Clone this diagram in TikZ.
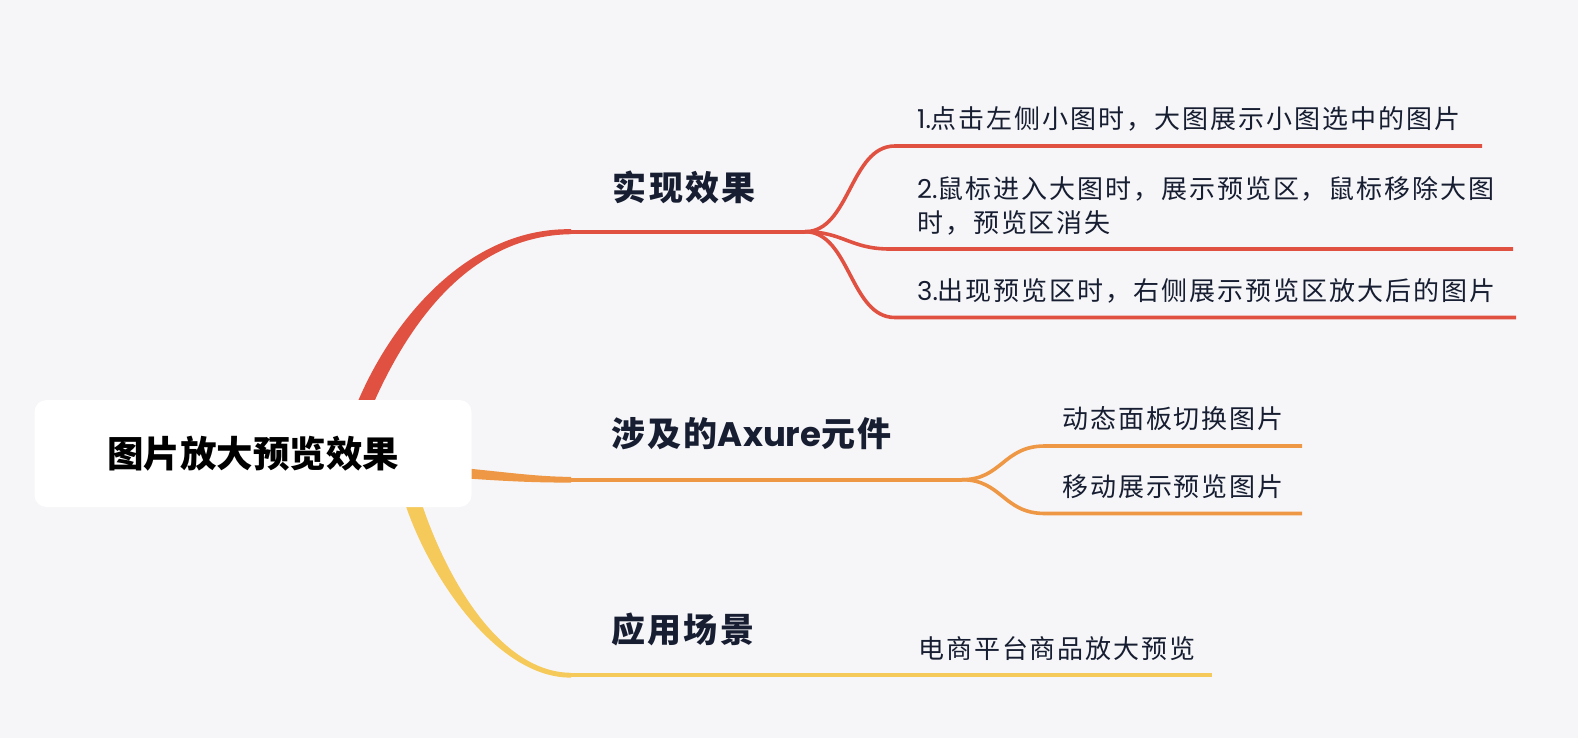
\documentclass[tikz,border=0pt]{standalone}
\usepackage{fontspec}
\setmainfont{Noto Sans CJK SC}
\newfontfamily\cjk[LetterSpace=7.5]{Noto Sans CJK SC}
\newfontfamily\cjkb[LetterSpace=7]{Noto Sans CJK SC}
\newfontfamily\cjkroot{Noto Sans CJK SC}
\newfontfamily\lat{Poppins}
\definecolor{bgc}{HTML}{F6F6F8}
\definecolor{ink}{HTML}{171E32}
\definecolor{mred}{HTML}{E05141}
\definecolor{morange}{HTML}{EE9845}
\definecolor{myellow}{HTML}{F5C95A}
\begin{document}
\begin{tikzpicture}[x=1pt,y=-1pt,
  leaf/.style={anchor=west, inner sep=0pt, text=ink, align=left, font=\cjk\fontsize{26}{34}\selectfont},
  head/.style={anchor=west, inner sep=0pt, text=ink, font=\cjkb\bfseries\fontsize{34}{40}\selectfont},
  rootbox/.style={fill=white, rounded corners=12pt, minimum width=437pt, minimum height=107pt, inner sep=0pt, text=black, font=\cjkroot\bfseries\fontsize{36.5}{40}\selectfont},
  rline/.style={draw=mred, line width=3.6pt, line cap=butt},
  oline/.style={draw=morange, line width=3.6pt, line cap=butt},
  yline/.style={draw=myellow, line width=4.2pt, line cap=butt}]
\useasboundingbox (0,0) rectangle (1578,738);
\fill[bgc] (0,0) rectangle (1578,738);

% junction coordinates
\coordinate (rJ) at (571,231.7);
\coordinate (rS) at (805,231.7);
\coordinate (r1) at (895,146);
\coordinate (r1e) at (1482,146);
\coordinate (r2) at (890,249);
\coordinate (r2e) at (1513,249);
\coordinate (r3) at (895,317.5);
\coordinate (r3e) at (1516,317.5);
\coordinate (oJ) at (571,479.7);
\coordinate (oS) at (962,479.7);
\coordinate (o1) at (1045,446);
\coordinate (o1e) at (1302,446);
\coordinate (o2) at (1045,513.5);
\coordinate (o2e) at (1302,513.5);
\coordinate (yJ) at (571,675.3);
\coordinate (yE) at (1212,675.3);

% tapered red trunk
\fill[mred] (347.6,424.4) -- (359.8,397) .. controls (396,314.8) and (471,227.6) .. (571,229.2)
  -- (571,234.2) .. controls (471,235.6) and (410,321.2) .. (373.6,403) -- (361.4,430.4) -- cycle;
% tapered orange trunk
\fill[morange] (440,466) .. controls (500,471) and (530,476.5) .. (571,476.9)
  -- (571,482.6) .. controls (530,482.6) and (500,481) .. (440,476.5) -- cycle;
% tapered yellow trunk
\fill[myellow] (412.5,477.4) -- (422.4,505.7) .. controls (448,581.3) and (501,672.3) .. (571,672.8)
  -- (571,677.6) .. controls (501,678.1) and (434.8,586.3) .. (407.6,510.9) -- (397.7,482.6) -- cycle;

% red branch
\draw[rline] (rJ) -- (rS);
\draw[rline] (rS) .. controls +(45,0) and +(-45,0) .. (r1) -- (r1e);
\draw[rline] (rS) .. controls +(38,0) and +(-40,0) .. (r2) -- (r2e);
\draw[rline] (rS) .. controls +(45,0) and +(-45,0) .. (r3) -- (r3e);
% orange branch
\draw[oline] (oJ) -- (oS);
\draw[oline] (oS) .. controls +(40,0) and +(-42,0) .. (o1) -- (o1e);
\draw[oline] (oS) .. controls +(40,0) and +(-42,0) .. (o2) -- (o2e);
% yellow branch
\draw[yline] (yJ) -- (yE);

% root
\node[rootbox] (root) at (253,453.5) {图片放大预览效果};

% headings
\node[head] (h1) at (612.5,187) {实现效果};
\node[head] (h2) at (611,434) {涉及的{\lat Axure}元件};
\node[head] (h3) at (611,630) {应用场景};

% leaves
\node[leaf] (l1) at (917,119) {{\lat 1.}点击左侧小图时，大图展示小图选中的图片};
\node[leaf] (l2) at (917,205.5) {{\lat 2.}鼠标进入大图时，展示预览区，鼠标移除大图\\时，预览区消失};
\node[leaf] (l3) at (917,290.5) {{\lat 3.}出现预览区时，右侧展示预览区放大后的图片};
\node[leaf] (l4) at (1062,419) {动态面板切换图片};
\node[leaf] (l5) at (1062,487) {移动展示预览图片};
\node[leaf] (l6) at (918,649) {电商平台商品放大预览};
\end{tikzpicture}
\end{document}
